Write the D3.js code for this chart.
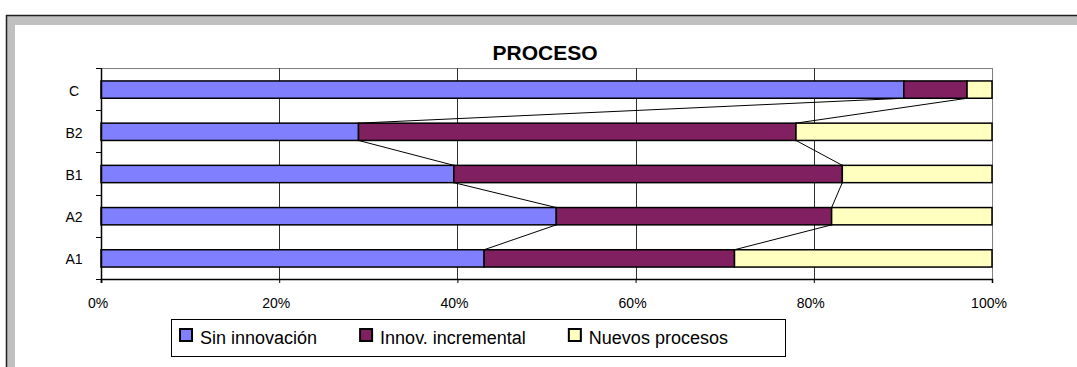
<!DOCTYPE html>
<html>
<head>
<meta charset="utf-8">
<script src="https://cdn.jsdelivr.net/npm/d3@7"></script>
<style>
  html, body { margin: 0; padding: 0; background: #fff; }
  svg { display: block; font-family: "Liberation Sans", Arial, sans-serif; }
</style>
</head>
<body>
<svg id="chart" width="1077" height="367"></svg>
<script>
// Process innovation share by group (percent of firms)
const categories = ["A1", "A2", "B1", "B2", "C"];
const seriesNames = ["Sin innovación", "Innov. incremental", "Nuevos procesos"];
const sinInnovacion = [43.0, 51.1, 39.6, 28.9, 90.1];
const innovIncremental = [28.1, 30.9, 43.6, 49.1, 7.1];
const nuevosProcesos = [28.9, 18.0, 16.8, 22.0, 2.8];
const seriesColors = ["#8080ff", "#802060", "#ffffc0"];
const xTicks = [0, 0.2, 0.4, 0.6, 0.8, 1];
const title = "PROCESO";

const svg = d3.select("#chart");

// Outer chart frame: dark edge with a grey band on top and left
svg.append("rect").attr("x", 7).attr("y", 16).attr("width", 1070).attr("height", 9).attr("fill", "#c0c0c0");
svg.append("rect").attr("x", 7).attr("y", 16).attr("width", 8).attr("height", 351).attr("fill", "#c0c0c0");
svg.append("line").attr("x1", 6).attr("x2", 1077).attr("y1", 15.5).attr("y2", 15.5).attr("stroke", "#202020").attr("stroke-width", 1.5);
svg.append("line").attr("x1", 6.5).attr("x2", 6.5).attr("y1", 15).attr("y2", 367).attr("stroke", "#202020").attr("stroke-width", 1.5);

const plot = { left: 101, right: 992, top: 68, bottom: 279 };

// Build stacked rows (fractions of 1)
const rows = categories.map((c, i) => {
  const vals = [sinInnovacion[i], innovIncremental[i], nuevosProcesos[i]];
  const total = d3.sum(vals);
  let acc = 0;
  const segs = vals.map((v, k) => {
    const x0 = acc / total;
    acc += v;
    return { key: k, x0, x1: acc / total };
  });
  return { cat: c, segs };
});

const x = d3.scaleLinear().domain([0, 1]).range([plot.left, plot.right]);
const y = d3.scaleBand().domain(categories.slice().reverse()).range([plot.top, plot.bottom]).padding(0);
const barH = y.bandwidth() * 0.41;
const barTop = c => y(c) + (y.bandwidth() - barH) / 2 + 0.5;

// Plot area border (top and right)
svg.append("line").attr("x1", plot.left).attr("x2", plot.right).attr("y1", plot.top + 0.5).attr("y2", plot.top + 0.5).attr("stroke", "#808080");
svg.append("line").attr("x1", plot.right + 0.5).attr("x2", plot.right + 0.5).attr("y1", plot.top).attr("y2", plot.bottom).attr("stroke", "#808080");

// Vertical gridlines
svg.append("g").selectAll("line")
  .data(xTicks.filter(t => t > 0 && t < 1))
  .join("line")
  .attr("x1", d => Math.round(x(d)) + 0.5).attr("x2", d => Math.round(x(d)) + 0.5)
  .attr("y1", plot.top).attr("y2", plot.bottom)
  .attr("stroke", "#303030").attr("stroke-width", 1);

// Series lines connecting segment boundaries of adjacent bars
const seriesLines = [];
for (let i = 0; i < rows.length - 1; i++) {
  const lower = rows[i], upper = rows[i + 1];
  for (let k = 0; k < 2; k++) {
    seriesLines.push({
      x1: x(lower.segs[k].x1), y1: barTop(lower.cat),
      x2: x(upper.segs[k].x1), y2: barTop(upper.cat) + barH
    });
  }
}
svg.append("g").selectAll("line").data(seriesLines).join("line")
  .attr("x1", d => d.x1).attr("y1", d => d.y1)
  .attr("x2", d => d.x2).attr("y2", d => d.y2)
  .attr("stroke", "#000").attr("stroke-width", 1);

// Bars
const barG = svg.append("g");
rows.forEach(r => {
  barG.selectAll(null).data(r.segs).join("rect")
    .attr("x", d => x(d.x0))
    .attr("y", barTop(r.cat))
    .attr("width", d => x(d.x1) - x(d.x0))
    .attr("height", barH)
    .attr("fill", d => seriesColors[d.key])
    .attr("stroke", "#000").attr("stroke-width", 1.5);
});

// Category axis (left)
svg.append("line").attr("x1", plot.left + 0.5).attr("x2", plot.left + 0.5).attr("y1", plot.top).attr("y2", plot.bottom + 4).attr("stroke", "#000").attr("stroke-width", 1.5);
const boundaries = categories.map(c => y(c)).concat([plot.bottom]);
svg.append("g").selectAll("line").data(boundaries).join("line")
  .attr("x1", plot.left - 5).attr("x2", plot.left)
  .attr("y1", d => Math.round(d) + 0.5).attr("y2", d => Math.round(d) + 0.5)
  .attr("stroke", "#000");
svg.append("g").selectAll("text").data(categories).join("text")
  .attr("x", 74).attr("y", d => y(d) + y.bandwidth() / 2 + 1.5)
  .attr("dy", "0.35em")
  .attr("text-anchor", "middle")
  .attr("font-size", 14).attr("fill", "#000")
  .text(d => d);

// Value axis (bottom)
const xAxis = d3.axisBottom(x).tickValues(xTicks).tickFormat(d3.format(".0%")).tickSize(4).tickPadding(15.5);
const gx = svg.append("g").attr("transform", `translate(0,${plot.bottom})`).call(xAxis);
gx.select(".domain").attr("stroke", "#000").attr("stroke-width", 1.5);
gx.selectAll(".tick line").attr("stroke", "#000");
gx.selectAll(".tick text").attr("font-size", 14).attr("dx", -3.5)
  .attr("font-family", "Liberation Sans, Arial, sans-serif").attr("fill", "#000");

// Title
svg.append("text").attr("x", 545).attr("y", 60).attr("text-anchor", "middle")
  .attr("font-size", 21).attr("font-weight", "bold").attr("fill", "#000").text(title);

// Legend
const legend = svg.append("g");
legend.append("rect").attr("x", 171.5).attr("y", 319.5).attr("width", 614).attr("height", 37)
  .attr("fill", "#fff").attr("stroke", "#000");
let lx = 179;
seriesNames.forEach((name, k) => {
  legend.append("rect").attr("x", lx + 1).attr("y", 329).attr("width", 12).attr("height", 12)
    .attr("fill", seriesColors[k]).attr("stroke", "#000").attr("stroke-width", 2);
  const t = legend.append("text").attr("x", lx + 21).attr("y", 343.5)
    .attr("font-size", 18).attr("fill", "#000").text(name);
  lx += 21 + t.node().getComputedTextLength() + 42;
});
</script>
</body>
</html>
